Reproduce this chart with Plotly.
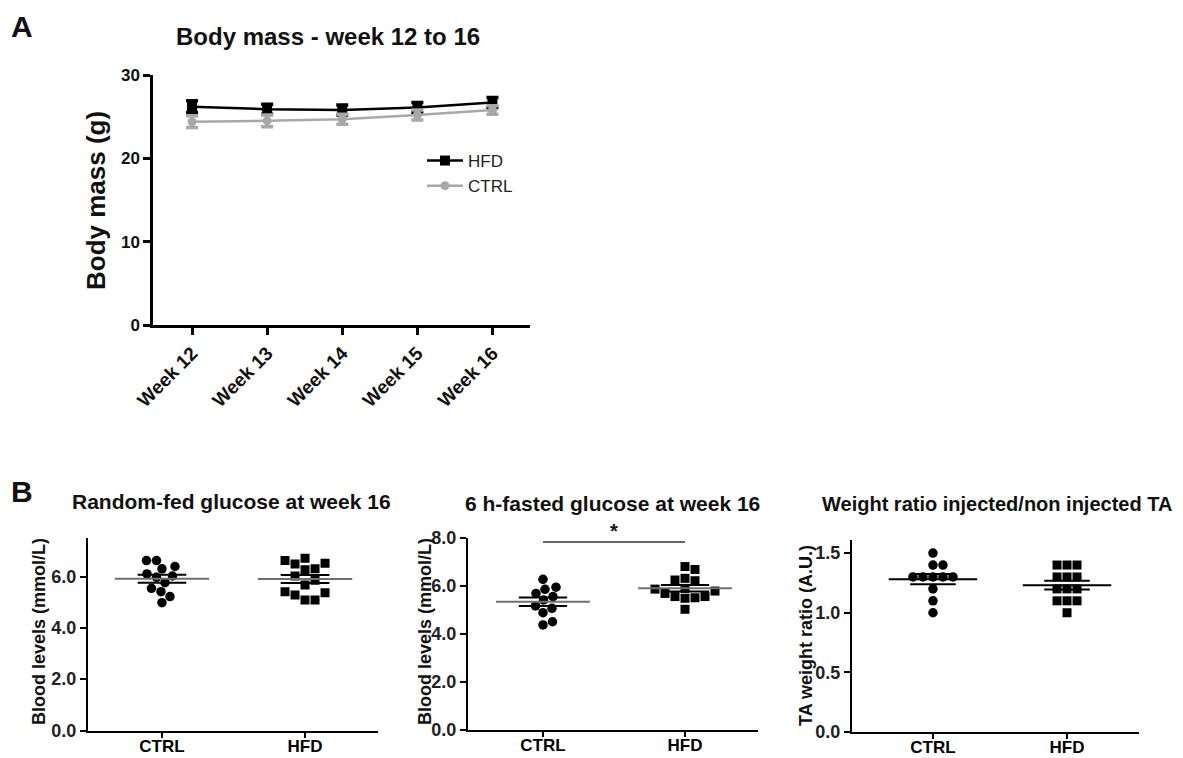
import numpy as np
import plotly.graph_objects as go

W, H = 1183, 758
FONT = "Liberation Sans, Arial, Helvetica, sans-serif"

# ---------------- data ----------------
weeks = ["Week 12", "Week 13", "Week 14", "Week 15", "Week 16"]
hfd_mass = [26.2, 25.9, 25.8, 26.1, 26.7]
hfd_sem = [0.7, 0.6, 0.6, 0.6, 0.6]
ctrl_mass = [24.4, 24.5, 24.7, 25.2, 25.8]
ctrl_sem = [0.7, 0.7, 0.6, 0.6, 0.5]

groups = ["CTRL", "HFD"]
random_ctrl = [6.39, 6.62, 6.62, 6.30, 6.10, 6.02, 5.97, 5.76, 5.54, 5.41, 5.22, 4.98]
random_hfd = [6.62, 6.49, 6.71, 6.52, 6.26, 6.30, 6.02, 5.67, 5.37, 5.28, 5.41, 5.08, 5.08, 5.85]
fasted_ctrl = [6.28, 5.95, 5.86, 5.69, 5.56, 5.42, 5.07, 5.17, 4.89, 4.38, 4.51]
fasted_hfd = [6.81, 6.69, 6.32, 6.25, 6.22, 5.79, 5.87, 5.56, 5.51, 5.56, 5.49, 5.69, 5.03, 5.90]
ta_ctrl = [1.5, 1.4, 1.4, 1.3, 1.3, 1.3, 1.3, 1.3, 1.2, 1.1, 1.0]
ta_hfd = [1.4, 1.4, 1.4, 1.3, 1.3, 1.3, 1.2, 1.2, 1.2, 1.1, 1.1, 1.1, 1.0]


def pxx(p):
    return p / W


def pyy(p):
    return 1 - p / H


def beeswarm(values, x_ppu, y_ppu, d, square):
    vals = np.asarray(values, dtype=float)
    order = np.argsort(vals, kind="stable")
    steps = np.arange(0.0, 80.0, 0.5)
    cands = [0.0]
    for s in steps[1:]:
        cands += [s, -s]
    placed = []
    offs = np.zeros(len(vals))
    for i in order:
        y = vals[i] * y_ppu
        chosen = 0.0
        for c in cands:
            ok = True
            for (xp, yp) in placed:
                if square:
                    if abs(c - xp) < d and abs(y - yp) < d:
                        ok = False
                        break
                else:
                    if (c - xp) ** 2 + (y - yp) ** 2 < d * d:
                        ok = False
                        break
            if ok:
                chosen = c
                break
        offs[i] = chosen / x_ppu
        placed.append((chosen, y))
    return offs


fig = go.Figure()

# ---------------- Panel A ----------------
fig.add_trace(go.Scatter(
    x=list(range(len(weeks))), y=hfd_mass, name="HFD", mode="lines+markers",
    line=dict(color="black", width=2.5),
    marker=dict(symbol="square", size=10, color="black"),
    error_y=dict(type="data", array=hfd_sem, color="black", thickness=3.5, width=6),
    xaxis="x", yaxis="y", showlegend=True))
fig.add_trace(go.Scatter(
    x=list(range(len(weeks))), y=ctrl_mass, name="CTRL", mode="lines+markers",
    line=dict(color="#a8a8a8", width=2.5),
    marker=dict(symbol="circle", size=9, color="#a8a8a8"),
    error_y=dict(type="data", array=ctrl_sem, color="#a8a8a8", thickness=3.5, width=6),
    xaxis="x", yaxis="y", showlegend=True))

# ---------------- Panel B ----------------
panels = [
    dict(ax="2", xdom=(88, 378), ydom=(730.5, 538), xr=(-0.517, 1.51), yr=(0, 7.5), dtick=2,
         ctrl=random_ctrl, hfd=random_hfd, meancol="#707070", fmt=".1f"),
    dict(ax="3", xdom=(468, 758), ydom=(730, 538), xr=(-0.528, 1.514), yr=(0, 8), dtick=2,
         ctrl=fasted_ctrl, hfd=fasted_hfd, meancol="#707070", fmt=".1f"),
    dict(ax="4", xdom=(852, 1139), ydom=(732, 540), xr=(-0.604, 1.537), yr=(0, 1.61), dtick=0.5,
         ctrl=ta_ctrl, hfd=ta_hfd, meancol="black", fmt=".1f"),
]

layout_axes = {}
for p in panels:
    xpx = p["xdom"][1] - p["xdom"][0]
    ypx = p["ydom"][0] - p["ydom"][1]
    x_ppu = xpx / (p["xr"][1] - p["xr"][0])
    y_ppu = ypx / (p["yr"][1] - p["yr"][0])
    for gi, (vals, sym, sq) in enumerate([(p["ctrl"], "circle", False), (p["hfd"], "square", True)]):
        offs = beeswarm(vals, x_ppu, y_ppu, 9.8, sq)
        fig.add_trace(go.Scatter(
            x=gi + offs, y=vals, mode="markers",
            marker=dict(symbol=sym, size=9.5 if not sq else 9, color="black", line=dict(width=0)),
            xaxis="x" + p["ax"], yaxis="y" + p["ax"], showlegend=False, hoverinfo="y"))
        arr = np.asarray(vals, dtype=float)
        m = arr.mean()
        sem = arr.std(ddof=1) / np.sqrt(len(arr))
        fig.add_trace(go.Scatter(
            x=[gi - 0.33, gi + 0.33], y=[m, m], mode="lines",
            line=dict(color=p["meancol"], width=2),
            xaxis="x" + p["ax"], yaxis="y" + p["ax"], showlegend=False, hoverinfo="skip"))
        for v in (m - sem, m + sem):
            fig.add_trace(go.Scatter(
                x=[gi - 0.17, gi + 0.17], y=[v, v], mode="lines",
                line=dict(color="black", width=2),
                xaxis="x" + p["ax"], yaxis="y" + p["ax"], showlegend=False, hoverinfo="skip"))
    layout_axes["xaxis" + p["ax"]] = dict(
        domain=[pxx(p["xdom"][0]), pxx(p["xdom"][1])], range=list(p["xr"]),
        anchor="y" + p["ax"], tickvals=[0, 1], ticktext=groups, automargin=False,
        showline=True, linecolor="black", linewidth=2, ticks="outside", ticklen=5,
        tickwidth=2, tickcolor="black", showgrid=False, zeroline=False,
        ticklabelstandoff=-6,
        tickfont=dict(family=FONT, size=17, color="black", weight="bold"))
    layout_axes["yaxis" + p["ax"]] = dict(
        domain=[pyy(p["ydom"][0]), pyy(p["ydom"][1])], range=list(p["yr"]),
        anchor="x" + p["ax"], dtick=p["dtick"], tick0=0, tickformat=p["fmt"], automargin=False,
        showline=True, linecolor="black", linewidth=2, ticks="outside", ticklen=6,
        tickwidth=2, tickcolor="black", showgrid=False, zeroline=False,
        tickfont=dict(family="Liberation Sans Narrow, " + FONT, size=18, color="#222", weight="bold"))

# significance bar on fasted glucose
fig.add_shape(type="line", xref="x3", yref="y3", x0=0, x1=1, y0=7.83, y1=7.83,
              line=dict(color="#333", width=1.5))

annotations = [
    dict(text="A", x=pxx(9), y=pyy(26), xanchor="left", yanchor="middle", size=30),
    dict(text="Body mass - week 12 to 16", x=pxx(328), y=pyy(37), xanchor="center", yanchor="middle", size=24),
    dict(text="B", x=pxx(9), y=pyy(491), xanchor="left", yanchor="middle", size=30),
    dict(text="Random-fed glucose at week 16", x=pxx(232), y=pyy(501), xanchor="center", yanchor="middle", size=21),
    dict(text="6 h-fasted glucose at week 16", x=pxx(612), y=pyy(503), xanchor="center", yanchor="middle", size=21),
    dict(text="Weight ratio injected/non injected TA", x=pxx(997), y=pyy(504), xanchor="center", yanchor="middle", size=20),
    dict(text="Body mass (g)", x=pxx(96), y=pyy(201), xanchor="center", yanchor="middle", size=26, angle=-90),
    dict(text="Blood levels (mmol/L)", x=pxx(39), y=pyy(632), xanchor="center", yanchor="middle", size=18, angle=-90),
    dict(text="Blood levels (mmol/L)", x=pxx(425), y=pyy(632), xanchor="center", yanchor="middle", size=18, angle=-90),
    dict(text="TA weight ratio (A.U.)", x=pxx(806), y=pyy(636), xanchor="center", yanchor="middle", size=18, angle=-90),
]
ann_list = []
for a in annotations:
    ann_list.append(dict(
        text=a["text"], x=a["x"], y=a["y"], xref="paper", yref="paper",
        xanchor=a["xanchor"], yanchor=a["yanchor"], showarrow=False,
        textangle=a.get("angle", 0),
        font=dict(family=FONT, size=a["size"], color="#111", weight="bold")))
ann_list.append(dict(text="*", x=0.5, y=pyy(531), xref="x3", yref="paper", showarrow=False,
                     xanchor="center", yanchor="middle",
                     font=dict(family=FONT, size=20, color="#111", weight="bold")))

fig.update_layout(
    width=W, height=H, margin=dict(l=0, r=0, t=0, b=0, autoexpand=False),
    paper_bgcolor="white", plot_bgcolor="white",
    font=dict(family=FONT, color="black"),
    showlegend=True,
    legend=dict(x=pxx(422), y=pyy(143), xanchor="left", yanchor="top",
                bgcolor="rgba(0,0,0,0)", font=dict(family=FONT, size=17, color="#222"),
                itemwidth=36, tracegroupgap=0),
    xaxis=dict(domain=[pxx(153), pxx(530)], range=[-0.52, 4.5], anchor="y", automargin=False,
               tickvals=list(range(len(weeks))), ticktext=weeks, tickangle=-45,
               showline=True, linecolor="black", linewidth=2.5, ticks="outside",
               ticklen=7, tickwidth=2.5, tickcolor="black", showgrid=False, zeroline=False,
               tickfont=dict(family=FONT, size=19, color="#111", weight="bold")),
    yaxis=dict(domain=[pyy(325), pyy(75)], range=[0, 30], anchor="x", dtick=10, automargin=False,
               showline=True, linecolor="black", linewidth=2.5, ticks="outside",
               ticklen=7, tickwidth=2.5, tickcolor="black", showgrid=False, zeroline=False,
               tickfont=dict(family=FONT, size=17, color="#111", weight="bold")),
    annotations=ann_list,
    **layout_axes,
)

fig.write_html("out.html", config={"displayModeBar": False},
               post_script="document.body.style.margin='0px';")
